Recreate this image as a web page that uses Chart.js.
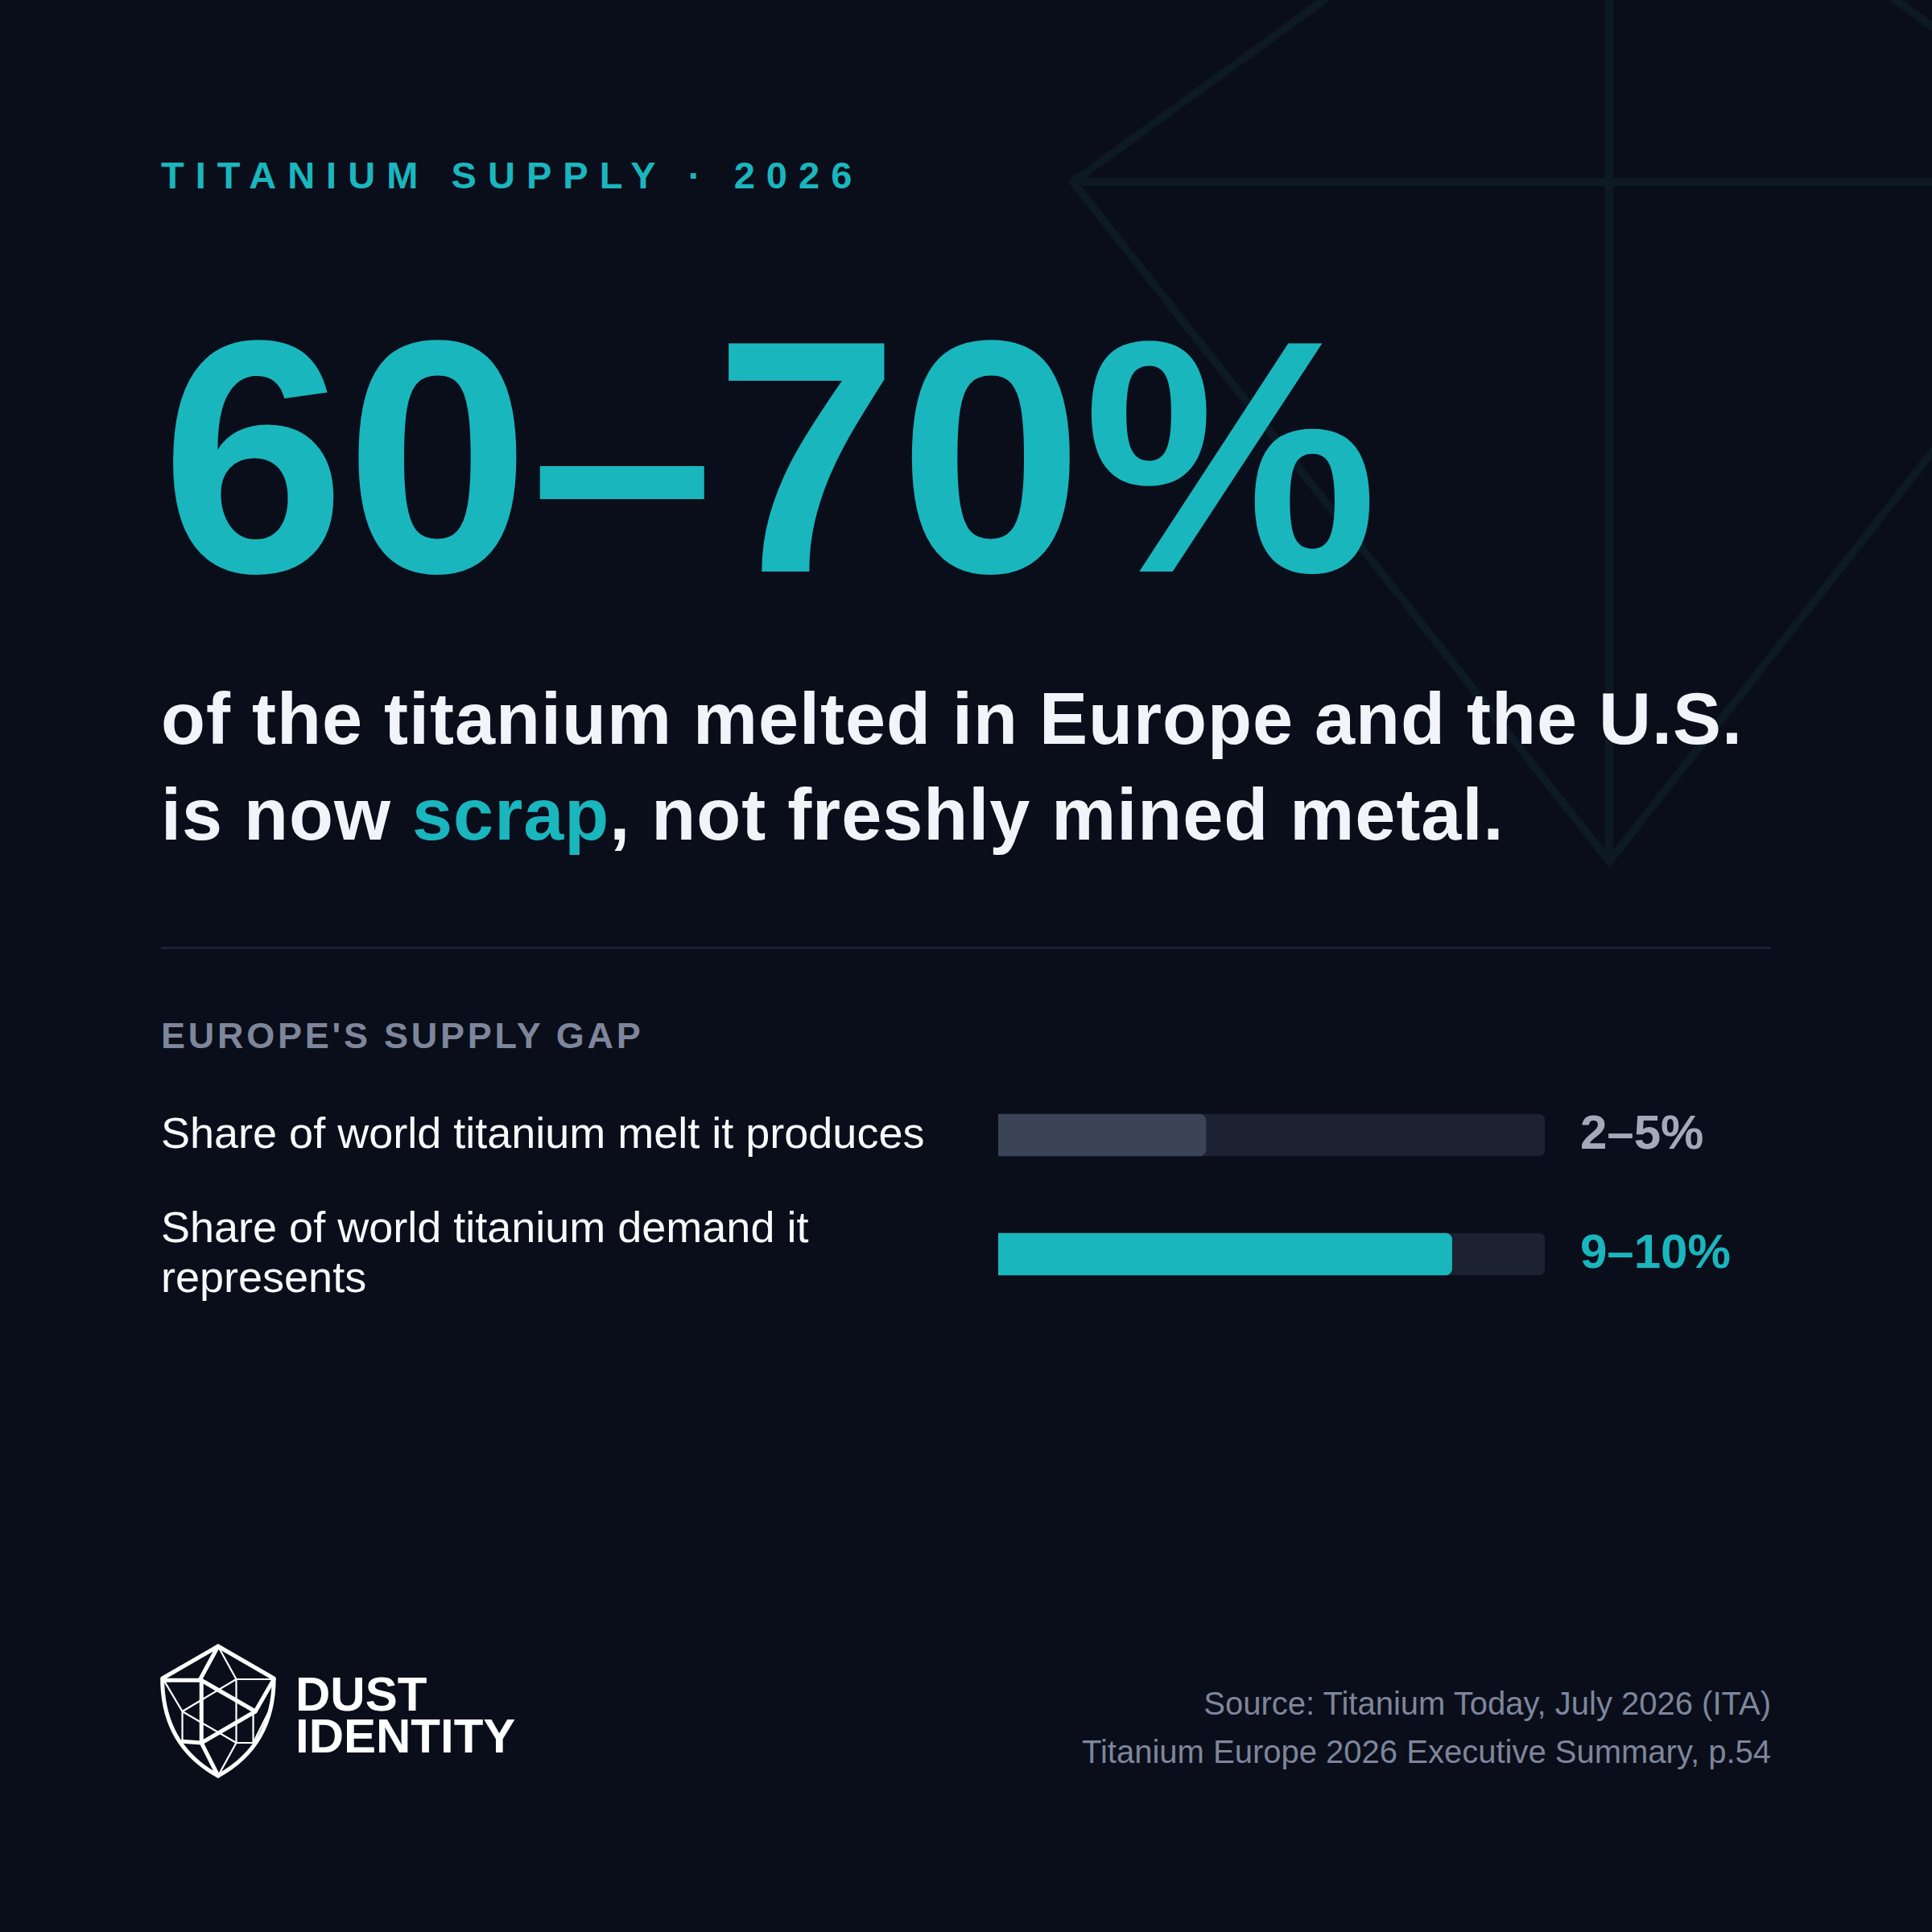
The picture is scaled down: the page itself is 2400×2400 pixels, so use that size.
<!DOCTYPE html>
<html>
<head>
<meta charset="utf-8">
<script src="https://cdn.jsdelivr.net/npm/chart.js@4.4.1/dist/chart.umd.min.js"></script>
<style>
  html, body { margin:0; padding:0; }
  body { width:2400px; height:2400px; background:#0a0e1a; position:relative; overflow:hidden;
         font-family:"Liberation Sans", Arial, Helvetica, sans-serif; }
  .abs { position:absolute; white-space:nowrap; }
  #kicker { left:200px; top:194px; font-size:47px; line-height:47px; font-weight:700; color:#1ab6be; letter-spacing:14.05px; }
  #big { left:200px; top:361px; font-size:412px; line-height:412px; font-weight:700; color:#1ab6be; letter-spacing:0px; }
  #sub { left:200px; top:834px; font-size:90px; line-height:119px; font-weight:700; color:#f1f5f9; letter-spacing:1px; }
  #sub .hl { color:#1ab6be; }
  #divider { left:200px; top:1176px; width:2000px; height:3px; background:#1c2233; }
  #section { left:200px; top:1264px; font-size:45px; line-height:45px; font-weight:700; color:#7d869b; letter-spacing:3.75px; }
  .rowlabel { position:absolute; left:200px; width:1010px; font-size:54px; line-height:62px; color:#f8fafc; }
  .rowval { position:absolute; left:1963px; font-size:60px; line-height:60px; font-weight:700; white-space:nowrap; }
  #chartbox { position:absolute; left:1240px; top:1336px; width:679px; height:296px; }
  #source { right:200px; top:2086px; font-size:40px; line-height:60px; color:#7d869b; text-align:right; }
  .logo-t { position:absolute; left:367px; font-size:60px; line-height:60px; font-weight:700; color:#ffffff; letter-spacing:0px; }
</style>
</head>
<body>
<svg class="abs" style="left:0;top:0" width="2400" height="2400" viewBox="0 0 2400 2400">
  <g stroke="#0d1a23" stroke-width="10" fill="none" stroke-linejoin="miter">
    <polyline points="1700,-40 1333,226 1999,1070 2665,226 2300,-40"/>
    <line x1="1333" y1="226" x2="2665" y2="226"/>
    <line x1="1999" y1="-20" x2="1999" y2="1070"/>
  </g>
</svg>

<div id="kicker" class="abs">TITANIUM SUPPLY · 2026</div>
<div id="big" class="abs">60–70%</div>
<div id="sub" class="abs">of the titanium melted in Europe and the U.S.<br>is now <span class="hl">scrap</span>, not freshly mined metal.</div>
<div id="divider" class="abs"></div>
<div id="section" class="abs">EUROPE'S SUPPLY GAP</div>

<div id="rows"></div>
<div id="chartbox"><canvas id="c" width="679" height="296"></canvas></div>

<svg class="abs" style="left:150px;top:2000px" width="600" height="250" viewBox="0 0 1568 750" preserveAspectRatio="none">
  <g fill="none" stroke="#ffffff" stroke-linejoin="round" stroke-linecap="round">
    <path vector-effect="non-scaling-stroke" stroke-width="5" d="M316,135 L497,255 C497,420 440,540 316,618 C192,540 135,420 135,255 Z"/>
    <g stroke-width="5">
      <path vector-effect="non-scaling-stroke" d="M316,135 L258,258"/>
      <path vector-effect="non-scaling-stroke" d="M140,262 L262,262 L262,495"/>
      <path vector-effect="non-scaling-stroke" d="M262,262 L437,378 L262,495"/>
      <path vector-effect="non-scaling-stroke" d="M200,490 L262,495 L316,618"/>
      <path vector-effect="non-scaling-stroke" d="M497,258 L437,378"/>
    </g>
    <g stroke-width="2.2">
      <path vector-effect="non-scaling-stroke" d="M316,135 L375,258 L497,258"/>
      <path vector-effect="non-scaling-stroke" d="M375,258 L375,495 L430,495 L430,378"/>
      <path vector-effect="non-scaling-stroke" d="M375,258 L200,378 L375,495"/>
      <path vector-effect="non-scaling-stroke" d="M140,262 L200,378 L200,490"/>
      <path vector-effect="non-scaling-stroke" d="M375,495 L316,618"/>
      <path vector-effect="non-scaling-stroke" d="M430,495 L480,380"/>
    </g>
  </g>
</svg>
<div class="logo-t" style="top:2075px">DUST</div>
<div class="logo-t" style="top:2127px">IDENTITY</div>

<div id="source" class="abs">Source: Titanium Today, July 2026 (ITA)<br>Titanium Europe 2026 Executive Summary, p.54</div>

<script>
// ---- data ----
const categories = ["Share of world titanium melt it produces", "Share of world titanium demand it represents"];
const valueLabels = ["2–5%", "9–10%"];
const barFill = [38, 83];          // filled share of each track (%)
const trackFull = [100, 100];      // full track length
const fillColors = ["#3b4356", "#1ab6be"];
const labelColors = ["#a3a9b8", "#1ab6be"];

// ---- text rows ----
const rowTops = [1376, 1493];
const valTops = [1377, 1525];
const rows = document.getElementById('rows');
categories.forEach((c, i) => {
  const l = document.createElement('div');
  l.className = 'rowlabel';
  l.style.top = rowTops[i] + 'px';
  l.textContent = c;
  rows.appendChild(l);
  const v = document.createElement('div');
  v.className = 'rowval';
  v.style.top = valTops[i] + 'px';
  v.style.color = labelColors[i];
  v.textContent = valueLabels[i];
  rows.appendChild(v);
});

// ---- chart ----
new Chart(document.getElementById('c'), {
  type: 'bar',
  data: {
    labels: categories,
    datasets: [
      { data: barFill, backgroundColor: fillColors, borderRadius: 8, barThickness: 52, grouped: false },
      { data: trackFull, backgroundColor: "#1c2232", borderRadius: 8, barThickness: 52, grouped: false }
    ]
  },
  options: {
    indexAxis: 'y',
    responsive: false,
    animation: false,
    devicePixelRatio: 1,
    layout: { padding: 0 },
    plugins: { legend: { display: false }, tooltip: { enabled: false } },
    scales: {
      x: { display: false, min: 0, max: 100 },
      y: { display: false }
    }
  }
});
</script>
</body>
</html>
